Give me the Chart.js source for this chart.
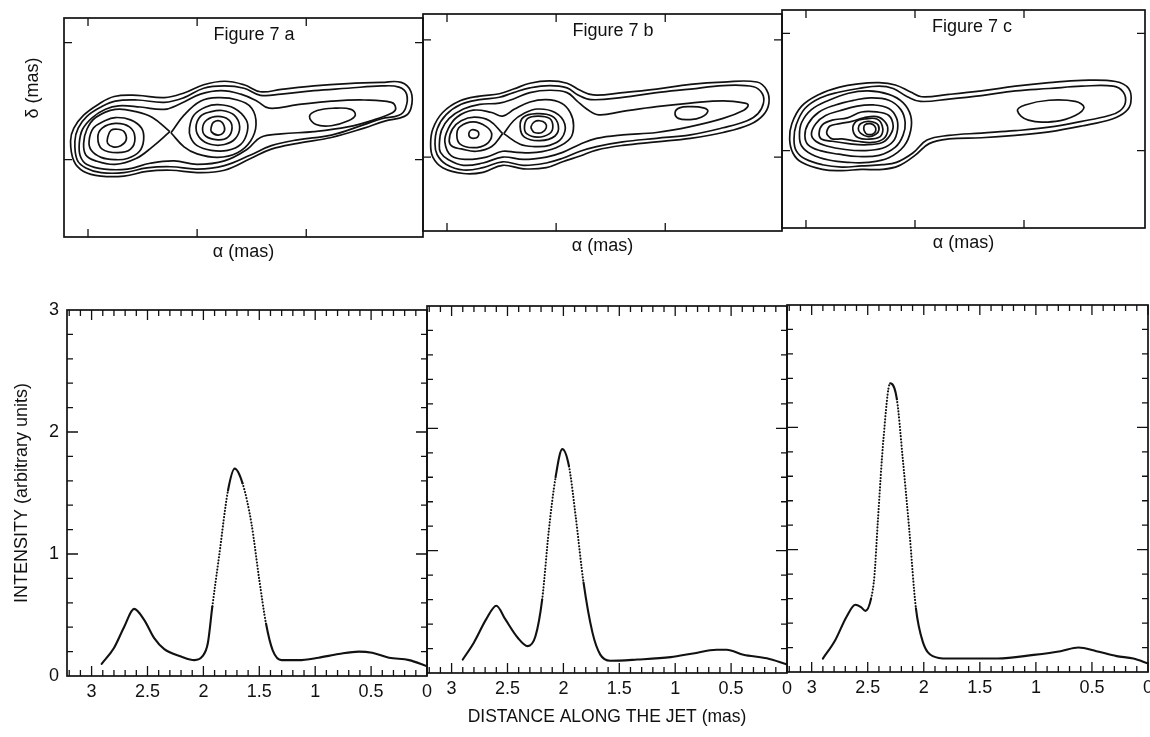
<!DOCTYPE html>
<html>
<head>
<meta charset="utf-8">
<script src="https://cdn.jsdelivr.net/npm/chart.js@4.4.0/dist/chart.umd.min.js"></script>
<style>
  html, body { margin: 0; padding: 0; background: #fff; }
  #wrap { position: relative; width: 1150px; height: 737px; }
  #wrap canvas { position: absolute; left: 0; top: 0; }
</style>
</head>
<body>
<div id="wrap">
  <canvas id="mapA" width="1150" height="737"></canvas>
  <canvas id="mapB" width="1150" height="737"></canvas>
  <canvas id="mapC" width="1150" height="737"></canvas>
  <canvas id="profA" width="1150" height="737"></canvas>
  <canvas id="profB" width="1150" height="737"></canvas>
  <canvas id="profC" width="1150" height="737"></canvas>
</div>
<script>
// ---------- intensity profiles: [distance along jet (mas), intensity] ----------
const profileA = [[2.91,0.10],[2.80,0.23],[2.71,0.40],[2.62,0.55],[2.53,0.46],[2.44,0.31],[2.35,0.22],[2.20,0.16],[2.08,0.13],[2.01,0.16],[1.96,0.27],[1.92,0.57],[1.86,0.98],[1.78,1.52],[1.72,1.70],[1.65,1.58],[1.57,1.25],[1.50,0.79],[1.44,0.43],[1.38,0.21],[1.30,0.13],[1.15,0.13],[0.97,0.15],[0.79,0.18],[0.61,0.20],[0.49,0.19],[0.34,0.15],[0.16,0.13],[0.00,0.08]];
const profileB = [[2.90,0.11],[2.80,0.25],[2.69,0.44],[2.60,0.55],[2.52,0.44],[2.41,0.29],[2.32,0.22],[2.25,0.30],[2.19,0.60],[2.13,1.17],[2.07,1.60],[2.01,1.83],[1.95,1.69],[1.89,1.28],[1.82,0.74],[1.74,0.33],[1.67,0.15],[1.58,0.10],[1.34,0.11],[1.04,0.13],[0.84,0.16],[0.63,0.19],[0.54,0.19],[0.39,0.15],[0.18,0.12],[0.00,0.07]];
const profileC = [[2.90,0.11],[2.79,0.26],[2.69,0.45],[2.61,0.55],[2.56,0.53],[2.52,0.50],[2.47,0.60],[2.44,0.79],[2.41,1.23],[2.36,1.90],[2.30,2.36],[2.24,2.23],[2.19,1.77],[2.13,1.17],[2.07,0.52],[2.01,0.25],[1.92,0.13],[1.79,0.11],[1.34,0.11],[1.02,0.14],[0.78,0.17],[0.62,0.20],[0.46,0.17],[0.28,0.13],[0.13,0.11],[0.00,0.07]];

const distTicks = [3, 2.5, 2, 1.5, 1, 0.5, 0];
const intensityTicks = [0, 1, 2, 3];
const alphaTicks = [3, 2, 1];
const deltaTicks = [0, 1];

// ---------- contour maps: closed rings of [alpha (mas), delta (mas)] ----------
// Figure 7 a
const mapA_outer1 = [[3.16,0.16],[3.13,0.27],[3.04,0.38],[2.91,0.47],[2.76,0.54],[2.55,0.55],[2.30,0.53],[2.12,0.57],[1.94,0.64],[1.75,0.67],[1.57,0.64],[1.42,0.58],[1.23,0.60],[0.93,0.63],[0.62,0.65],[0.31,0.66],[0.13,0.66],[0.04,0.58],[0.04,0.44],[0.10,0.37],[0.28,0.33],[0.47,0.27],[0.77,0.19],[1.08,0.14],[1.32,0.09],[1.51,0.01],[1.75,-0.09],[2.00,-0.11],[2.24,-0.09],[2.46,-0.10],[2.67,-0.14],[2.88,-0.14],[3.04,-0.10],[3.13,-0.01]];
const mapA_outer2 = [[3.12,0.16],[3.09,0.27],[3.01,0.37],[2.88,0.45],[2.75,0.50],[2.55,0.51],[2.30,0.49],[2.12,0.53],[1.94,0.61],[1.75,0.63],[1.57,0.61],[1.42,0.55],[1.23,0.56],[0.93,0.59],[0.62,0.61],[0.31,0.63],[0.15,0.62],[0.08,0.56],[0.09,0.44],[0.15,0.38],[0.31,0.35],[0.47,0.30],[0.77,0.21],[1.08,0.17],[1.32,0.12],[1.51,0.04],[1.75,-0.05],[2.00,-0.08],[2.24,-0.06],[2.46,-0.07],[2.67,-0.11],[2.88,-0.11],[3.02,-0.07],[3.10,0.00]];
const mapA_outer3 = [[3.08,0.14],[3.05,0.26],[2.96,0.36],[2.84,0.43],[2.72,0.46],[2.52,0.45],[2.30,0.43],[2.15,0.48],[1.97,0.56],[1.78,0.59],[1.60,0.56],[1.45,0.50],[1.34,0.44],[1.08,0.47],[0.77,0.50],[0.47,0.51],[0.22,0.49],[0.18,0.44],[0.21,0.40],[0.38,0.34],[0.62,0.28],[0.93,0.24],[1.23,0.22],[1.42,0.19],[1.54,0.09],[1.75,-0.01],[2.00,-0.04],[2.21,-0.01],[2.43,-0.03],[2.64,-0.08],[2.85,-0.08],[3.01,-0.04],[3.07,0.03]];
const mapA_west4 = [[2.25,0.24],[2.41,0.11],[2.56,0.01],[2.75,-0.04],[2.93,-0.01],[3.02,0.04],[3.04,0.14],[3.01,0.26],[2.93,0.36],[2.75,0.43],[2.56,0.41],[2.41,0.36]];
const mapA_west3 = [[2.99,0.16],[2.95,0.27],[2.85,0.33],[2.75,0.36],[2.61,0.34],[2.51,0.27],[2.49,0.17],[2.53,0.07],[2.64,0.01],[2.75,0.00],[2.88,0.02],[2.97,0.08]];
const mapA_west2 = [[2.91,0.19],[2.87,0.27],[2.75,0.31],[2.62,0.28],[2.57,0.19],[2.61,0.09],[2.73,0.06],[2.87,0.09]];
const mapA_west1 = [[2.82,0.19],[2.79,0.25],[2.73,0.26],[2.67,0.24],[2.65,0.17],[2.70,0.12],[2.77,0.11],[2.82,0.14]];
const mapA_east4 = [[2.24,0.23],[2.12,0.38],[1.97,0.50],[1.81,0.53],[1.63,0.51],[1.50,0.44],[1.46,0.30],[1.51,0.16],[1.63,0.06],[1.81,0.02],[2.00,0.05],[2.12,0.11]];
const mapA_east3 = [[2.07,0.27],[2.03,0.38],[1.92,0.45],[1.81,0.47],[1.66,0.44],[1.55,0.34],[1.54,0.24],[1.60,0.13],[1.72,0.08],[1.87,0.08],[2.00,0.12],[2.06,0.19]];
const mapA_east2 = [[2.01,0.27],[1.97,0.37],[1.87,0.41],[1.77,0.42],[1.66,0.38],[1.61,0.28],[1.65,0.18],[1.75,0.13],[1.87,0.13],[1.97,0.18]];
const mapA_east1 = [[1.95,0.27],[1.91,0.34],[1.81,0.37],[1.71,0.34],[1.68,0.27],[1.72,0.19],[1.81,0.17],[1.92,0.20]];
const mapA_east0 = [[1.87,0.28],[1.85,0.32],[1.79,0.33],[1.75,0.28],[1.76,0.23],[1.81,0.21],[1.87,0.24]];
const mapA_jet = [[0.97,0.37],[0.90,0.42],[0.74,0.44],[0.59,0.43],[0.55,0.38],[0.62,0.33],[0.77,0.29],[0.91,0.30]];

// Figure 7 b
const mapB_outer1 = [[3.15,0.11],[3.13,0.24],[3.04,0.38],[2.88,0.48],[2.70,0.52],[2.52,0.54],[2.39,0.58],[2.24,0.63],[2.06,0.65],[1.90,0.63],[1.78,0.57],[1.66,0.53],[1.39,0.55],[1.08,0.58],[0.77,0.62],[0.47,0.64],[0.16,0.64],[0.07,0.57],[0.05,0.46],[0.10,0.36],[0.22,0.28],[0.47,0.21],[0.77,0.16],[1.08,0.13],[1.39,0.10],[1.63,0.06],[1.78,0.01],[1.94,-0.04],[2.09,-0.09],[2.30,-0.10],[2.49,-0.07],[2.67,-0.13],[2.85,-0.14],[3.04,-0.09],[3.13,0.00]];
const mapB_outer2 = [[3.11,0.11],[3.09,0.24],[3.01,0.36],[2.87,0.45],[2.70,0.49],[2.52,0.51],[2.39,0.55],[2.24,0.59],[2.06,0.61],[1.90,0.59],[1.80,0.53],[1.68,0.49],[1.39,0.51],[1.08,0.55],[0.77,0.58],[0.47,0.61],[0.19,0.60],[0.11,0.54],[0.10,0.46],[0.15,0.37],[0.25,0.31],[0.47,0.25],[0.77,0.19],[1.08,0.16],[1.39,0.13],[1.63,0.09],[1.78,0.05],[1.94,-0.01],[2.09,-0.05],[2.30,-0.07],[2.49,-0.04],[2.67,-0.09],[2.85,-0.11],[3.01,-0.06],[3.09,0.02]];
const mapB_outer3 = [[3.07,0.11],[3.05,0.23],[2.98,0.33],[2.85,0.41],[2.70,0.45],[2.52,0.46],[2.38,0.50],[2.24,0.55],[2.06,0.57],[1.90,0.55],[1.81,0.48],[1.72,0.41],[1.61,0.36],[1.39,0.39],[1.08,0.43],[0.77,0.46],[0.47,0.48],[0.27,0.46],[0.24,0.44],[0.28,0.40],[0.47,0.33],[0.77,0.26],[1.08,0.21],[1.39,0.19],[1.63,0.16],[1.78,0.11],[1.94,0.04],[2.09,0.00],[2.30,-0.02],[2.49,0.00],[2.67,-0.05],[2.85,-0.07],[2.99,-0.02],[3.06,0.04]];
const mapB_pair5 = [[3.02,0.13],[2.99,0.24],[2.91,0.34],[2.76,0.40],[2.59,0.38],[2.49,0.35],[2.38,0.41],[2.24,0.47],[2.09,0.49],[1.95,0.46],[1.87,0.38],[1.84,0.27],[1.87,0.16],[2.00,0.08],[2.18,0.04],[2.36,0.04],[2.49,0.05],[2.64,0.00],[2.82,-0.02],[2.96,0.01]];
const mapB_west4 = [[2.49,0.20],[2.59,0.09],[2.73,0.05],[2.87,0.07],[2.95,0.09],[2.98,0.14],[2.95,0.24],[2.87,0.31],[2.75,0.34],[2.61,0.31]];
const mapB_west3 = [[2.91,0.19],[2.88,0.26],[2.76,0.30],[2.64,0.26],[2.59,0.19],[2.64,0.11],[2.76,0.08],[2.88,0.11]];
const mapB_west1 = [[2.80,0.20],[2.78,0.23],[2.74,0.23],[2.71,0.21],[2.72,0.17],[2.76,0.16],[2.79,0.17]];
const mapB_east4 = [[2.48,0.20],[2.39,0.31],[2.30,0.37],[2.17,0.41],[2.01,0.38],[1.92,0.28],[1.95,0.16],[2.06,0.10],[2.20,0.09],[2.33,0.11]];
const mapB_east3 = [[2.33,0.26],[2.30,0.34],[2.18,0.37],[2.04,0.35],[1.98,0.27],[2.01,0.18],[2.15,0.14],[2.29,0.17]];
const mapB_east2 = [[2.29,0.26],[2.26,0.33],[2.17,0.35],[2.06,0.33],[2.03,0.26],[2.06,0.20],[2.17,0.17],[2.27,0.20]];
const mapB_east1 = [[2.23,0.26],[2.20,0.30],[2.15,0.31],[2.10,0.29],[2.09,0.25],[2.13,0.21],[2.20,0.21],[2.22,0.23]];
const mapB_jet = [[0.91,0.38],[0.87,0.42],[0.77,0.43],[0.65,0.42],[0.61,0.39],[0.67,0.34],[0.77,0.32],[0.88,0.33]];

// Figure 7 c
const mapC_outer1 = [[3.15,0.10],[3.13,0.23],[3.04,0.38],[2.88,0.48],[2.70,0.54],[2.52,0.57],[2.33,0.58],[2.18,0.56],[2.04,0.50],[1.94,0.46],[1.69,0.48],[1.39,0.51],[1.08,0.55],[0.77,0.58],[0.47,0.60],[0.16,0.59],[0.04,0.53],[0.02,0.41],[0.07,0.33],[0.19,0.27],[0.47,0.21],[0.77,0.16],[1.08,0.13],[1.39,0.11],[1.69,0.10],[1.87,0.06],[2.00,-0.04],[2.15,-0.13],[2.30,-0.16],[2.49,-0.16],[2.67,-0.17],[2.85,-0.16],[3.04,-0.10],[3.12,-0.02]];
const mapC_outer2 = [[3.11,0.10],[3.09,0.22],[3.01,0.36],[2.87,0.45],[2.69,0.50],[2.52,0.53],[2.33,0.55],[2.20,0.53],[2.07,0.46],[1.95,0.42],[1.69,0.44],[1.39,0.47],[1.08,0.51],[0.77,0.53],[0.47,0.55],[0.18,0.55],[0.09,0.50],[0.07,0.41],[0.12,0.34],[0.22,0.30],[0.47,0.25],[0.77,0.20],[1.08,0.17],[1.39,0.15],[1.69,0.13],[1.89,0.09],[2.02,-0.02],[2.17,-0.10],[2.30,-0.12],[2.49,-0.13],[2.67,-0.14],[2.85,-0.12],[3.01,-0.07],[3.09,0.00]];
const mapC_blob3 = [[3.06,0.13],[3.04,0.24],[2.95,0.35],[2.79,0.43],[2.61,0.49],[2.43,0.51],[2.24,0.48],[2.11,0.41],[2.04,0.30],[2.04,0.17],[2.10,0.04],[2.24,-0.06],[2.43,-0.10],[2.61,-0.10],[2.79,-0.08],[2.95,-0.03],[3.04,0.04]];
const mapC_blob4 = [[3.01,0.13],[2.98,0.23],[2.88,0.33],[2.73,0.39],[2.56,0.43],[2.41,0.45],[2.24,0.43],[2.13,0.35],[2.09,0.24],[2.11,0.13],[2.18,0.03],[2.33,-0.04],[2.52,-0.05],[2.70,-0.03],[2.87,0.00],[2.98,0.05]];
const mapC_blob5 = [[2.95,0.14],[2.91,0.23],[2.82,0.30],[2.69,0.34],[2.53,0.38],[2.38,0.39],[2.24,0.36],[2.17,0.28],[2.16,0.18],[2.20,0.08],[2.30,0.02],[2.47,0.00],[2.64,0.01],[2.81,0.04],[2.91,0.08]];
const mapC_blob6 = [[2.88,0.15],[2.85,0.22],[2.76,0.26],[2.62,0.28],[2.49,0.33],[2.35,0.33],[2.24,0.30],[2.20,0.21],[2.23,0.13],[2.30,0.07],[2.46,0.05],[2.61,0.06],[2.76,0.08],[2.86,0.10]];
const mapC_blob7 = [[2.81,0.16],[2.78,0.21],[2.69,0.23],[2.58,0.25],[2.47,0.28],[2.35,0.29],[2.27,0.24],[2.25,0.17],[2.29,0.10],[2.39,0.07],[2.53,0.08],[2.67,0.10],[2.76,0.10],[2.80,0.13]];
const mapC_core2 = [[2.57,0.18],[2.54,0.25],[2.46,0.27],[2.35,0.27],[2.30,0.21],[2.31,0.13],[2.39,0.10],[2.52,0.11]];
const mapC_core1 = [[2.52,0.19],[2.50,0.23],[2.43,0.25],[2.35,0.23],[2.33,0.18],[2.36,0.14],[2.43,0.12],[2.50,0.15]];
const mapC_core0 = [[2.47,0.19],[2.46,0.22],[2.41,0.23],[2.37,0.21],[2.36,0.17],[2.39,0.14],[2.44,0.14],[2.46,0.16]];
const mapC_jet = [[1.06,0.34],[0.99,0.39],[0.77,0.43],[0.53,0.42],[0.45,0.37],[0.53,0.30],[0.71,0.25],[0.96,0.26]];

const ringsA = [mapA_outer1, mapA_outer2, mapA_outer3, mapA_west3, mapA_west2, mapA_west1, mapA_east3, mapA_east2, mapA_east1, mapA_east0, mapA_jet];
const lobesA = [mapA_west4, mapA_east4];
const ringsB = [mapB_outer1, mapB_outer2, mapB_outer3, mapB_pair5, mapB_west3, mapB_west1, mapB_east3, mapB_east2, mapB_east1, mapB_jet];
const lobesB = [mapB_west4, mapB_east4];
const ringsC = [mapC_outer1, mapC_outer2, mapC_blob3, mapC_blob4, mapC_blob5, mapC_blob6, mapC_blob7, mapC_core2, mapC_core1, mapC_core0, mapC_jet];

// ==========================================================
// layout / styling
// ==========================================================
const W = 1150, H = 737;
const FONT = '"Liberation Sans", Arial, sans-serif';
const INK = '#111';

function layoutFor(box, yw, xh) {
    return {
        autoPadding: false,
        padding: { left: box.left - yw, top: box.top, right: W - box.right, bottom: H - box.bottom - xh }
    };
}

// fix the size of an axis box and drop the room Chart.js keeps for overhanging edge labels
function fixSize(prop, size) {
    return s => {
        s[prop] = size;
        s.paddingLeft = 0; s.paddingRight = 0; s.paddingTop = 0; s.paddingBottom = 0;
    };
}

// box with inward tick marks on all four sides, plus free text labels
function makeFrame(xMarks, yMarks, labels) {
    return {
        id: 'frame',
        afterDraw(chart) {
            const { ctx, chartArea: a } = chart;
            const xs = chart.scales.x, ys = chart.scales.y;
            ctx.save();
            ctx.strokeStyle = INK;
            ctx.lineWidth = 1.7;
            ctx.strokeRect(a.left, a.top, a.right - a.left, a.bottom - a.top);
            ctx.lineWidth = 1.3;
            ctx.beginPath();
            xMarks.forEach(([v, len]) => {
                const p = xs.getPixelForValue(v);
                ctx.moveTo(p, a.bottom); ctx.lineTo(p, a.bottom - len);
                ctx.moveTo(p, a.top); ctx.lineTo(p, a.top + len);
            });
            yMarks.forEach(([v, len]) => {
                const p = ys.getPixelForValue(v);
                ctx.moveTo(a.left, p); ctx.lineTo(a.left + len, p);
                ctx.moveTo(a.right, p); ctx.lineTo(a.right - len, p);
            });
            ctx.stroke();
            ctx.fillStyle = INK;
            ctx.textAlign = 'center';
            ctx.textBaseline = 'middle';
            labels.forEach(l => {
                ctx.save();
                ctx.font = l.font;
                ctx.translate(a.left + l.dx, a.top + l.dy);
                if (l.rot) ctx.rotate(l.rot);
                ctx.fillText(l.text, 0, 0);
                ctx.restore();
            });
            ctx.restore();
        }
    };
}

// closed contour ring; "sharp" rings keep a pointed tip at their first point
function ringDataset(pts, sharp) {
    const loop = sharp ? [...pts, pts[0]] : [pts[pts.length - 1], ...pts, pts[0], pts[1]];
    const last = loop.length - 1;
    return {
        data: loop.map(p => ({ x: p[0], y: p[1] })),
        borderColor: INK,
        borderWidth: 1.7,
        pointRadius: 0,
        tension: 0.4,
        fill: false,
        segment: sharp ? {} : {
            borderColor: ctx => (ctx.p0DataIndex === 0 || ctx.p1DataIndex === last) ? 'rgba(0,0,0,0)' : undefined
        }
    };
}

const mapPanels = [
    { id: 'mapA', box: { left: 64, top: 18, right: 423, bottom: 237 }, xmin: -0.07, ymin: -0.66, ymax: 1.21, rings: ringsA, lobes: lobesA, name: 'Figure 7 a', delta: true },
    { id: 'mapB', box: { left: 423, top: 14, right: 782, bottom: 231 }, xmin: -0.07, ymin: -0.63, ymax: 1.22, rings: ringsB, lobes: lobesB, name: 'Figure 7 b', delta: false },
    { id: 'mapC', box: { left: 782, top: 10, right: 1145, bottom: 228 }, xmin: -0.11, ymin: -0.66, ymax: 1.20, rings: ringsC, lobes: [], name: 'Figure 7 c', delta: false }
];

const profilePanels = [
    { id: 'profA', box: { left: 67, top: 310, right: 427, bottom: 676 }, series: profileA, showY: true, showTitle: false },
    { id: 'profB', box: { left: 427, top: 306, right: 787, bottom: 673 }, series: profileB, showY: false, showTitle: true },
    { id: 'profC', box: { left: 787, top: 305, right: 1148, bottom: 672 }, series: profileC, showY: false, showTitle: false }
];

function renderMap(p) {
    const labels = [{ text: p.name, dx: 190, dy: 17, font: '18px ' + FONT }];
    if (p.delta) labels.push({ text: 'δ (mas)', dx: -31, dy: 70, rot: -Math.PI / 2, font: '18px ' + FONT });
    const datasets = p.rings.map(r => ringDataset(r, false)).concat(p.lobes.map(r => ringDataset(r, true)));
    new Chart(document.getElementById(p.id), {
        type: 'line',
        data: { datasets },
        options: {
            responsive: false,
            animation: false,
            events: [],
            layout: layoutFor(p.box, 10, 30),
            plugins: { legend: { display: false }, tooltip: { enabled: false } },
            scales: {
                x: {
                    type: 'linear', reverse: true, min: p.xmin, max: 3.22,
                    ticks: { display: false },
                    grid: { display: false, drawTicks: false },
                    border: { display: false },
                    afterFit: fixSize('height', 30),
                    title: { display: true, text: 'α (mas)', color: INK, font: { family: FONT, size: 18 }, padding: { top: 0, bottom: 4 } }
                },
                y: {
                    type: 'linear', min: p.ymin, max: p.ymax,
                    ticks: { display: false },
                    grid: { display: false, drawTicks: false },
                    border: { display: false },
                    afterFit: fixSize('width', 10)
                }
            }
        },
        plugins: [makeFrame(alphaTicks.map(v => [v, 8]), deltaTicks.map(v => [v, 8]), labels)]
    });
}

function renderProfile(p) {
    const pts = p.series;
    // the steep flanks of the bright knot come out dotted in the original plot
    const steep = ctx => {
        const a = pts[ctx.p0DataIndex], b = pts[ctx.p1DataIndex];
        const k = Math.abs((b[1] - a[1]) / (b[0] - a[0]));
        return k > 4 && Math.min(a[1], b[1]) >= 0.4;
    };
    const xMarks = [];
    for (let i = 0; i <= 32; i++) xMarks.push([i / 10, i % 5 === 0 ? 10 : 6]);
    const yMarks = [];
    for (let i = 1; i < 15; i++) yMarks.push([i / 5, i % 5 === 0 ? 11 : 6]);

    new Chart(document.getElementById(p.id), {
        type: 'line',
        data: {
            datasets: [{
                data: pts.map(q => ({ x: q[0], y: q[1] })),
                borderColor: INK,
                borderWidth: 2.1,
                borderCapStyle: 'round',
                pointRadius: 0,
                cubicInterpolationMode: 'monotone',
                fill: false,
                segment: { borderDash: ctx => steep(ctx) ? [0.1, 3] : undefined }
            }]
        },
        options: {
            responsive: false,
            animation: false,
            events: [],
            layout: layoutFor(p.box, 60, 60),
            plugins: { legend: { display: false }, tooltip: { enabled: false } },
            scales: {
                x: {
                    type: 'linear', reverse: true, min: 0, max: 3.22,
                    afterBuildTicks: s => { s.ticks = distTicks.map(v => ({ value: v })); },
                    afterFit: fixSize('height', 60),
                    ticks: { color: INK, font: { family: FONT, size: 18 }, padding: 5, autoSkip: false, maxRotation: 0, callback: v => String(v) },
                    grid: { display: false, drawTicks: false },
                    border: { display: false },
                    title: { display: p.showTitle, text: 'DISTANCE ALONG THE JET (mas)', color: INK, font: { family: FONT, size: 17.5 }, padding: { top: 0, bottom: 5 } }
                },
                y: {
                    type: 'linear', min: 0, max: 3,
                    afterBuildTicks: s => { s.ticks = intensityTicks.map(v => ({ value: v })); },
                    afterFit: fixSize('width', 60),
                    ticks: { display: p.showY, color: INK, font: { family: FONT, size: 18 }, padding: 8, callback: v => String(v) },
                    grid: { display: false, drawTicks: false },
                    border: { display: false },
                    title: { display: p.showY, text: 'INTENSITY (arbitrary units)', color: INK, font: { family: FONT, size: 18 }, padding: { top: 4, bottom: 0 } }
                }
            }
        },
        plugins: [makeFrame(xMarks, yMarks, [])]
    });
}

mapPanels.forEach(renderMap);
profilePanels.forEach(renderProfile);
</script>
</body>
</html>
